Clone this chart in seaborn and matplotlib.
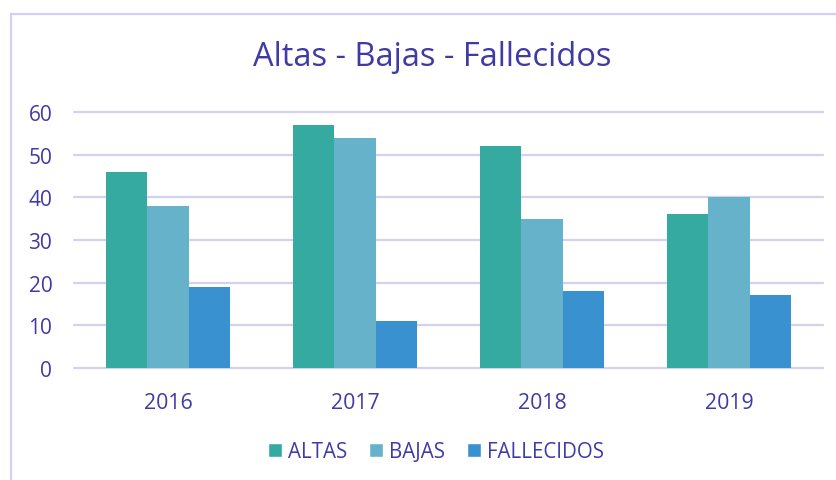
import pandas as pd
import matplotlib.pyplot as plt
import seaborn as sns
from matplotlib.lines import Line2D
from matplotlib.patches import Patch

years = ['2016', '2017', '2018', '2019']
altas = [46, 57, 52, 36]
bajas = [38, 54, 35, 40]
fallecidos = [19, 11, 18, 17]

series = ['ALTAS', 'BAJAS', 'FALLECIDOS']
colors = ['#35AAA0', '#67B2CB', '#3A91CF']
text_color = '#3F3AA6'
grid_color = '#D4D0F0'

df = pd.DataFrame({'Año': years * 3,
                   'Serie': ['ALTAS'] * 4 + ['BAJAS'] * 4 + ['FALLECIDOS'] * 4,
                   'Valor': altas + bajas + fallecidos})

sns.set_style('white')
plt.rcParams['font.family'] = ['Open Sans', 'DejaVu Sans']

W, H = 837, 481
fig = plt.figure(figsize=(W / 100, H / 100), dpi=100)
ax = fig.add_axes([74.5 / W, 112 / H, 748 / W, 256 / H])

sns.barplot(data=df, x='Año', y='Valor', hue='Serie', hue_order=series,
            palette=colors, width=0.66, gap=0, saturation=1, ax=ax,
            linewidth=0, legend=False)

ax.set_ylim(0, 60)
ax.set_yticks(range(0, 61, 10))
ax.set_xlim(-0.5, 3.5)
ax.grid(axis='y', color=grid_color, linewidth=1.6)
for gl in ax.get_ygridlines():
    gl.set_clip_on(False)
ax.set_axisbelow(True)
for s in ax.spines.values():
    s.set_visible(False)
ax.set_xlabel('')
ax.set_ylabel('')
ax.tick_params(axis='y', length=0, pad=16, labelsize=15, labelcolor=text_color)
ax.tick_params(axis='x', length=0, pad=17, labelsize=15.3, labelcolor=text_color)

fig.text(432 / W, 1 - 58 / H, 'Altas - Bajas - Fallecidos', ha='center', va='center',
         fontsize=23.5, color=text_color)

handles = [Patch(facecolor=c, label=s) for c, s in zip(colors, series)]
fig.legend(handles=handles, loc='center', bbox_to_anchor=(436 / W, 1 - 453 / H),
           ncol=3, frameon=False, fontsize=14.8, labelcolor=text_color,
           handlelength=0.68, handleheight=0.68, handletextpad=0.3, columnspacing=1.05)

# chart border (left and top edges visible)
fig.add_artist(Line2D([11.5 / W, 11.5 / W], [0, 1 - 14.5 / H], color=grid_color, linewidth=1.6))
fig.add_artist(Line2D([11.5 / W, 1], [1 - 14.5 / H, 1 - 14.5 / H], color=grid_color, linewidth=1.6))

fig.savefig('out.png', dpi=100)
